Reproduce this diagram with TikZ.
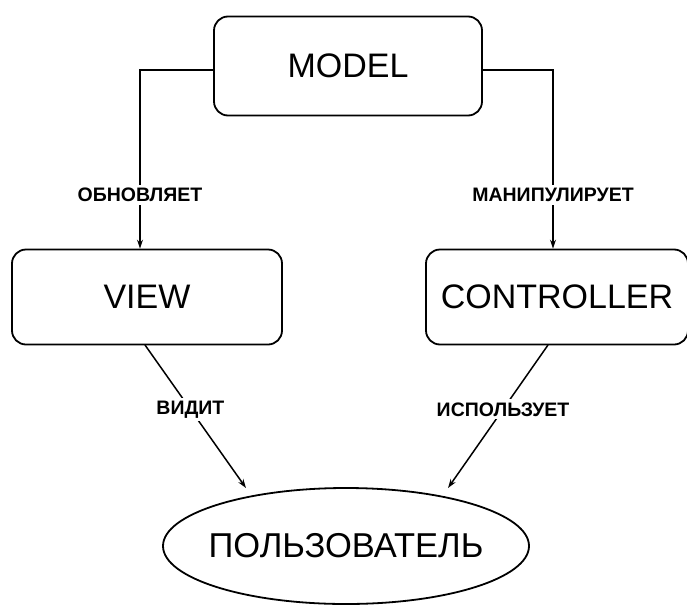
\documentclass[tikz,border=0pt]{standalone}
\usepackage{fontspec}
\setmainfont{Liberation Sans}
\usetikzlibrary{shapes.geometric,arrows.meta}
\begin{document}
\begin{tikzpicture}[x=1pt,y=-1pt,
  box/.style={draw,line width=1.8pt,rounded corners=14pt,font=\fontsize{34}{36}\selectfont,inner sep=0pt},
  conn/.style={line width=1.5pt,-{Stealth[length=9pt,width=6pt]}},
  lab/.style={fill=white,font=\bfseries\fontsize{19.5}{21}\selectfont,inner sep=3pt}]
\useasboundingbox (0,0) rectangle (687,605);
\node[box,minimum width=268pt,minimum height=99pt] (model) at (348,66) {MODEL};
\node[box,minimum width=270pt,minimum height=95pt] (view) at (147,297) {VIEW};
\node[box,minimum width=262pt,minimum height=95pt] (ctrl) at (557,297) {CONTROLLER};
\node[draw,ellipse,line width=1.8pt,minimum width=366pt,minimum height=116pt,inner xsep=-40pt,inner ysep=0pt,font=\fontsize{34.5}{36}\selectfont] (user) at (346,546) {ПОЛЬЗОВАТЕЛЬ};
\coordinate (lv) at (140,70);
\coordinate (rv) at (553,70);
\draw[conn] (model.west |- lv) -- (lv) -- (lv |- view.north) node[lab,pos=0.7] {ОБНОВЛЯЕТ};
\draw[conn] (model.east |- rv) -- (rv) -- (rv |- ctrl.north) node[lab,pos=0.7] {МАНИПУЛИРУЕТ};
\coordinate (va) at (145,345);
\coordinate (vb) at (246,488);
\coordinate (ca) at (548,345);
\coordinate (cb) at (448,488);
\draw[conn] (va) -- (vb) node[lab,pos=0.45] {ВИДИТ};
\draw[conn] (ca) -- (cb) node[lab,pos=0.45] {ИСПОЛЬЗУЕТ};
\end{tikzpicture}
\end{document}
